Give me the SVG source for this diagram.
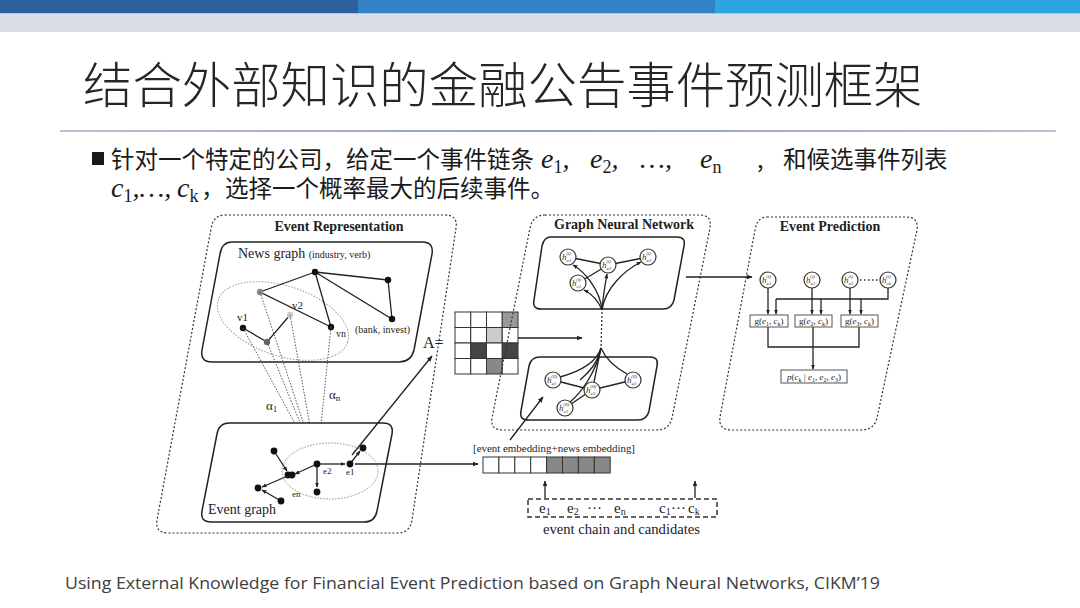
<svg xmlns="http://www.w3.org/2000/svg" width="1080" height="608" viewBox="0 0 1080 608">
<defs>
<style>
.ttl{font-family:"Noto Sans CJK SC","Noto Sans",sans-serif;font-size:49.4px;fill:#262626;font-weight:300}
.bt{font-family:"Noto Sans CJK SC","Noto Sans",sans-serif;font-size:23.5px;fill:#1a1a1a}
.mi{font-family:"Liberation Serif",serif;font-style:italic;font-size:28px;fill:#1a1a1a}
.ms{font-style:normal;font-size:18px}
.ft{font-family:"Open Sans","Liberation Sans",sans-serif;font-size:17px;fill:#404040}
.s{font-family:"Liberation Serif",serif;fill:#222}
.hd{font-family:"Liberation Serif",serif;font-weight:bold;font-size:14px;fill:#222;text-anchor:middle}
.dash{fill:none;stroke:#333;stroke-width:1.2;stroke-dasharray:2 2}
.box{fill:#fff;stroke:#222;stroke-width:1.5}
.ed{fill:none;stroke:#222;stroke-width:1.3}
.dot{fill:none;stroke:#555;stroke-width:1;stroke-dasharray:1.5 1.5}
.nd{fill:#fff;stroke:#333;stroke-width:1.2}
.hl{font-family:"Liberation Serif",serif;font-style:italic;font-size:9px;fill:#333}
.sub{font-size:5px}
.gb{fill:#fff;stroke:#555;stroke-width:1}
.gt{font-family:"Liberation Serif",serif;font-size:9px;fill:#222}
</style>
<marker id="ah" viewBox="0 0 10 10" refX="9" refY="5" markerWidth="6" markerHeight="6" orient="auto" markerUnits="userSpaceOnUse"><path d="M0,1 L10,5 L0,9 z" fill="#222"/></marker>
<marker id="as" viewBox="0 0 10 10" refX="9" refY="5" markerWidth="5" markerHeight="5" orient="auto" markerUnits="userSpaceOnUse"><path d="M0,1 L10,5 L0,9 z" fill="#222"/></marker>
<linearGradient id="lg" x1="0" x2="1" y1="0" y2="0"><stop offset="0" stop-color="#b8c2d0"/><stop offset="0.5" stop-color="#8f9fb6"/><stop offset="1" stop-color="#b8c2d0"/></linearGradient>
</defs>

<g id="header">
<rect x="0" y="0" width="358" height="14" fill="#2b5f9e"/>
<rect x="358" y="0" width="357" height="14" fill="#3381c6"/>
<rect x="715" y="0" width="365" height="14" fill="#2ba6e0"/>
<rect x="0" y="13" width="1080" height="1.5" fill="#a9c6e6"/>
<rect x="0" y="14.5" width="1080" height="17.5" fill="#d9dee6"/>
</g>

<g id="title">
<text class="ttl" x="83" y="103">结合外部知识的金融公告事件预测框架</text>
<rect x="60" y="130" width="996" height="2" fill="url(#lg)"/>
</g>

<g id="bullet">
<rect x="92" y="152" width="12" height="13" fill="#1a1a1a"/>
<text class="bt" x="111" y="168">针对一个特定的公司，给定一个事件链条</text>
<text class="mi" y="168"><tspan x="541">e</tspan><tspan class="ms" dy="5">1</tspan><tspan dy="-5">,</tspan><tspan x="590">e</tspan><tspan class="ms" dy="5">2</tspan><tspan dy="-5">,</tspan><tspan x="640">…,</tspan><tspan x="700">e</tspan><tspan class="ms" dy="5">n</tspan></text>
<text class="bt" x="757" y="168">,</text>
<text class="bt" x="783" y="168">和候选事件列表</text>
<text class="mi" y="197"><tspan x="111">c</tspan><tspan class="ms" dy="5">1</tspan><tspan dy="-5">,…,</tspan><tspan x="177">c</tspan><tspan class="ms" dy="5">k</tspan></text>
<text class="bt" x="201" y="197">，</text>
<text class="bt" x="225" y="197">选择一个概率最大的后续事件。</text>
</g>

<g id="event-representation">
<path class="dash" d="M225,215 L445,215 Q458,215 456,228 L412,520 Q410,533 397,533 L168,533 Q155,533 157,520 L211,229 Q213,215 225,215 Z"/>
<text class="hd" x="339" y="231">Event Representation</text>
</g>

<g id="news-graph">
<path class="box" d="M232,242 L422,242 Q434,242 432,254 L414,350 Q411,362 399,362 L212,362 Q200,362 202,350 L220,254 Q222,242 232,242 Z"/>
<text class="s" x="238" y="258" font-size="14">News graph <tspan font-size="10">(industry, verb)</tspan></text>
<ellipse cx="283" cy="321" rx="68" ry="35" transform="rotate(18 283 321)" fill="none" stroke="#999" stroke-width="1" stroke-dasharray="1.5 1.5"/>
<path class="ed" d="M388,280 L315,272 L392,319 L388,280 M315,272 L331,327 M315,272 L260,292 L331,327 M290,315 L267,342 L243,328"/>
<circle cx="315" cy="272" r="3.2" fill="#111"/>
<circle cx="388" cy="280" r="3.2" fill="#111"/>
<circle cx="392" cy="319" r="3.2" fill="#111"/>
<circle cx="331" cy="327" r="3.2" fill="#111"/>
<circle cx="243" cy="328" r="3.2" fill="#111"/>
<circle cx="260" cy="292" r="3.2" fill="#888"/>
<circle cx="290" cy="315" r="3.2" fill="#ccc"/>
<circle cx="267" cy="342" r="3.2" fill="#666"/>
<text class="s" x="237" y="321" font-size="11">v1</text>
<text class="s" x="292" y="309" font-size="11">v2</text>
<text class="s" x="336" y="337" font-size="10">vn</text>
<text class="s" x="355" y="333" font-size="10">(bank, invest)</text>
</g>

<g id="attention">
<path class="dot" d="M243,328 L317,464 M260,292 L317,464 M290,315 L317,464 M331,327 L317,464 M267,342 L317,464"/>
<text class="s" x="266" y="410" font-size="13">α<tspan font-size="9" dy="2">1</tspan></text>
<text class="s" x="329" y="399" font-size="13">α<tspan font-size="9" dy="2">n</tspan></text>
</g>

<g id="event-graph">
<path class="box" d="M229,423 L383,423 Q394,423 392,434 L377,511 Q375,522 364,522 L211,522 Q200,522 202,511 L217,434 Q219,423 229,423 Z"/>
<ellipse cx="330" cy="471" rx="48" ry="28" fill="none" stroke="#888" stroke-width="1" stroke-dasharray="1.5 1.5"/>
<g class="ed">
<path d="M317,464 L345,464" marker-end="url(#as)"/>
<path d="M350,464 L360,451" marker-end="url(#as)"/>
<path d="M317,464 L295,474" marker-end="url(#as)"/>
<path d="M274,451 L287,471" marker-end="url(#as)"/>
<path d="M317,464 L317,487" marker-end="url(#as)"/>
<path d="M290,475 L262,487" marker-end="url(#as)"/>
<path d="M281,501 L262,490" marker-end="url(#as)"/>
</g>
<circle cx="317" cy="464" r="3.4" fill="#111"/>
<circle cx="350" cy="464" r="3.4" fill="#111"/>
<circle cx="363" cy="448" r="3.4" fill="#111"/>
<circle cx="274" cy="451" r="3.4" fill="#111"/>
<circle cx="288" cy="475" r="3.4" fill="#111"/>
<circle cx="292" cy="475" r="3.4" fill="#111"/>
<circle cx="317" cy="492" r="3.4" fill="#111"/>
<circle cx="258" cy="488" r="3.4" fill="#111"/>
<circle cx="281" cy="501" r="3.4" fill="#111"/>
<text class="s" x="323" y="474" font-size="9">e2</text>
<text class="s" x="346" y="475" font-size="9">e1</text>
<text class="s" x="292" y="497" font-size="9">en</text>
<text class="s" x="208" y="514" font-size="14">Event graph</text>
</g>

<g id="matrix">
<text class="s" x="423" y="348" font-size="16">A=</text>
<g stroke="#333" stroke-width="1">
<rect x="455" y="312" width="15.75" height="15.5" fill="#fff"/><rect x="470.75" y="312" width="15.75" height="15.5" fill="#fff"/><rect x="486.5" y="312" width="15.75" height="15.5" fill="#fff"/><rect x="502.25" y="312" width="15.75" height="15.5" fill="#999"/>
<rect x="455" y="327.5" width="15.75" height="15.5" fill="#fff"/><rect x="470.75" y="327.5" width="15.75" height="15.5" fill="#fff"/><rect x="486.5" y="327.5" width="15.75" height="15.5" fill="#ccc"/><rect x="502.25" y="327.5" width="15.75" height="15.5" fill="#fff"/>
<rect x="455" y="343" width="15.75" height="15.5" fill="#fff"/><rect x="470.75" y="343" width="15.75" height="15.5" fill="#444"/><rect x="486.5" y="343" width="15.75" height="15.5" fill="#fff"/><rect x="502.25" y="343" width="15.75" height="15.5" fill="#444"/>
<rect x="455" y="358.5" width="15.75" height="15.5" fill="#fff"/><rect x="470.75" y="358.5" width="15.75" height="15.5" fill="#fff"/><rect x="486.5" y="358.5" width="15.75" height="15.5" fill="#888"/><rect x="502.25" y="358.5" width="15.75" height="15.5" fill="#fff"/>
</g>
</g>

<g id="gnn">
<path class="dash" d="M545,215 L700,215 Q712,215 710,228 L672,418 Q669,430 657,430 L503,430 Q490,430 492,418 L530,228 Q533,215 545,215 Z"/>
<text class="hd" x="624" y="229">Graph Neural Network</text>
</g>

<g id="gnn-top">
<path class="box" d="M551,237 L677,237 Q686,237 684,246 L674,300 Q672,309 663,309 L541,309 Q532,309 534,300 L542,246 Q544,237 551,237 Z"/>
<path class="ed" d="M568,257 L608,265 L648,257 M608,265 L578,283"/>
<g class="ed">
<path d="M602,310 C600,290 585,272 573,265" marker-end="url(#as)"/>
<path d="M602,310 C598,300 592,294 584,290" marker-end="url(#as)"/>
<path d="M602,310 C603,296 605,285 607,274" marker-end="url(#as)"/>
<path d="M602,310 C605,288 625,270 641,262" marker-end="url(#as)"/>
</g>
<circle class="nd" cx="568" cy="257" r="8"/><text class="hl" x="562" y="260">h<tspan class="sub" dy="2">e1</tspan><tspan class="sub" dx="-5" dy="-7">(t)</tspan></text>
<circle class="nd" cx="608" cy="265" r="8"/><text class="hl" x="602" y="268">h<tspan class="sub" dy="2">e2</tspan><tspan class="sub" dx="-5" dy="-7">(t)</tspan></text>
<circle class="nd" cx="648" cy="257" r="8"/><text class="hl" x="642" y="260">h<tspan class="sub" dy="2">e3</tspan><tspan class="sub" dx="-5" dy="-7">(t)</tspan></text>
<circle class="nd" cx="578" cy="283" r="8"/><text class="hl" x="572" y="286">h<tspan class="sub" dy="2">c1</tspan><tspan class="sub" dx="-5" dy="-7">(t)</tspan></text>
</g>

<g id="gnn-bottom">
<path class="box" d="M540,357 L650,357 Q659,357 657,366 L649,411 Q647,420 638,420 L528,420 Q519,420 521,411 L529,366 Q531,357 540,357 Z"/>
<path class="ed" d="M553,380 L592,390 L633,380 M592,390 L565,408"/>
<g class="ed">
<path d="M601,348 C596,364 578,372 560,377"/>
<path d="M601,348 C596,372 582,392 570,402"/>
<path d="M601,348 L594,382"/>
<path d="M601,348 C607,362 618,369 627,374"/>
<path d="M601,348 C598,362 590,372 580,380"/>
</g>
<circle class="nd" cx="553" cy="380" r="8"/><text class="hl" x="547" y="383">h<tspan class="sub" dy="2">e1</tspan><tspan class="sub" dx="-5" dy="-7">(0)</tspan></text>
<circle class="nd" cx="592" cy="390" r="8"/><text class="hl" x="586" y="393">h<tspan class="sub" dy="2">e2</tspan><tspan class="sub" dx="-5" dy="-7">(0)</tspan></text>
<circle class="nd" cx="633" cy="380" r="8"/><text class="hl" x="627" y="383">h<tspan class="sub" dy="2">e3</tspan><tspan class="sub" dx="-5" dy="-7">(0)</tspan></text>
<circle class="nd" cx="565" cy="408" r="8"/><text class="hl" x="559" y="411">h<tspan class="sub" dy="2">c1</tspan><tspan class="sub" dx="-5" dy="-7">(0)</tspan></text>
</g>

<g id="event-prediction">
<path class="dash" d="M767,217 L906,217 Q919,217 917,230 L877,418 Q874,430 861,430 L732,430 Q718,430 720,417 L755,230 Q757,217 767,217 Z"/>
<text class="hd" x="830" y="231">Event Prediction</text>
<circle class="nd" cx="768" cy="280" r="8"/><text class="hl" x="762" y="283">h<tspan class="sub" dy="2">e1</tspan><tspan class="sub" dx="-5" dy="-7">(t)</tspan></text>
<circle class="nd" cx="812" cy="280" r="8"/><text class="hl" x="806" y="283">h<tspan class="sub" dy="2">e2</tspan><tspan class="sub" dx="-5" dy="-7">(t)</tspan></text>
<circle class="nd" cx="850" cy="280" r="8"/><text class="hl" x="844" y="283">h<tspan class="sub" dy="2">e3</tspan><tspan class="sub" dx="-5" dy="-7">(t)</tspan></text>
<circle class="nd" cx="888" cy="280" r="8"/><text class="hl" x="882" y="283">h<tspan class="sub" dy="2">ck</tspan><tspan class="sub" dx="-5" dy="-7">(t)</tspan></text>
<path d="M860,280 L879,280" stroke="#333" stroke-width="1.5" stroke-dasharray="1.5 2.5"/>
<g class="ed">
<path d="M768,288 L768,314" marker-end="url(#as)"/>
<path d="M812,288 L812,314" marker-end="url(#as)"/>
<path d="M850,288 L850,314" marker-end="url(#as)"/>
<path d="M888,288 L888,299 L776,299"/>
<path d="M776,299 L776,314" marker-end="url(#as)"/>
<path d="M821,299 L821,314" marker-end="url(#as)"/>
<path d="M861,299 L861,314" marker-end="url(#as)"/>
<path d="M768,327 L768,347 L859,347 L859,327"/>
<path d="M813,327 L813,369" marker-end="url(#as)"/>
</g>
<rect class="gb" x="750" y="315" width="38" height="12"/><text class="gt" x="769" y="324" text-anchor="middle">g(<tspan font-style="italic">e</tspan><tspan font-size="6" dy="2">1</tspan><tspan dy="-2">, </tspan><tspan font-style="italic">c</tspan><tspan font-size="6" dy="2">k</tspan><tspan dy="-2">)</tspan></text>
<rect class="gb" x="795" y="315" width="37" height="12"/><text class="gt" x="813.5" y="324" text-anchor="middle">g(<tspan font-style="italic">e</tspan><tspan font-size="6" dy="2">2</tspan><tspan dy="-2">, </tspan><tspan font-style="italic">c</tspan><tspan font-size="6" dy="2">k</tspan><tspan dy="-2">)</tspan></text>
<rect class="gb" x="841" y="315" width="37" height="12"/><text class="gt" x="859.5" y="324" text-anchor="middle">g(<tspan font-style="italic">e</tspan><tspan font-size="6" dy="2">3</tspan><tspan dy="-2">, </tspan><tspan font-style="italic">c</tspan><tspan font-size="6" dy="2">k</tspan><tspan dy="-2">)</tspan></text>
<rect class="gb" x="781" y="370" width="66" height="13"/><text class="gt" x="814" y="380" text-anchor="middle"><tspan font-style="italic">p</tspan>(<tspan font-style="italic">c</tspan><tspan font-size="6" dy="2">k</tspan><tspan dy="-2"> | </tspan><tspan font-style="italic">e</tspan><tspan font-size="6" dy="2">1</tspan><tspan dy="-2">, </tspan><tspan font-style="italic">e</tspan><tspan font-size="6" dy="2">2</tspan><tspan dy="-2">, </tspan><tspan font-style="italic">e</tspan><tspan font-size="6" dy="2">3</tspan><tspan dy="-2">)</tspan></text>
</g>

<g id="embedding">
<text class="s" x="473" y="452" font-size="10" textLength="162" lengthAdjust="spacingAndGlyphs">[event embedding+news embedding]</text>
<g stroke="#333" stroke-width="1">
<rect x="483" y="457" width="15.9" height="16" fill="#fff"/><rect x="498.9" y="457" width="15.9" height="16" fill="#fff"/><rect x="514.8" y="457" width="15.9" height="16" fill="#fff"/><rect x="530.7" y="457" width="15.9" height="16" fill="#fff"/>
<rect x="546.6" y="457" width="15.9" height="16" fill="#888"/><rect x="562.5" y="457" width="15.9" height="16" fill="#888"/><rect x="578.4" y="457" width="15.9" height="16" fill="#888"/><rect x="594.3" y="457" width="15.9" height="16" fill="#888"/>
</g>
</g>

<g id="chain">
<rect x="528" y="499" width="189" height="18" fill="none" stroke="#333" stroke-width="1.5" stroke-dasharray="5 3"/>
<text class="s" x="539" y="513" font-size="15">e<tspan font-size="10" dy="2">1</tspan></text>
<text class="s" x="567" y="513" font-size="15">e<tspan font-size="10" dy="2">2</tspan></text>
<text class="s" x="587" y="513" font-size="15">···</text>
<text class="s" x="614" y="513" font-size="15">e<tspan font-size="10" dy="2">n</tspan></text>
<text class="s" x="659" y="513" font-size="15">c<tspan font-size="10" dy="2">1</tspan></text>
<text class="s" x="671" y="513" font-size="15">···</text>
<text class="s" x="688" y="513" font-size="15">c<tspan font-size="10" dy="2">k</tspan></text>
<text class="s" x="543" y="534" font-size="14" textLength="157" lengthAdjust="spacingAndGlyphs">event chain and candidates</text>
</g>

<g id="connectors" class="ed">
<path d="M352,455 L432,356" marker-end="url(#ah)"/>
<path d="M355,464 L478,464" marker-end="url(#ah)"/>
<path d="M518,338 L582,338" marker-end="url(#ah)"/>
<path d="M602,312 L601,348" stroke="#333" stroke-dasharray="2 2"/>
<path d="M686,277 L752,277" marker-end="url(#ah)"/>
<path d="M510,440 L543,397" marker-end="url(#ah)"/>
<path d="M545,498 L545,481" marker-end="url(#ah)"/>
<path d="M695,498 L695,481" marker-end="url(#ah)"/>
</g>

<g id="footer">
<text class="ft" x="65" y="589" textLength="815" lengthAdjust="spacingAndGlyphs">Using External Knowledge for Financial Event Prediction based on Graph Neural Networks, CIKM’19</text>
</g>
</svg>
